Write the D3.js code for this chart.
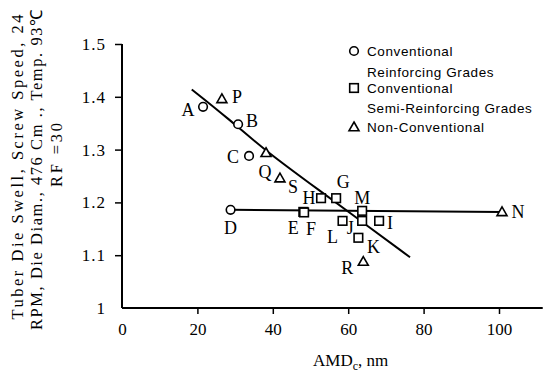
<!DOCTYPE html>
<html>
<head>
<meta charset="utf-8">
<script src="https://cdn.jsdelivr.net/npm/d3@7"></script>
<style>
  html, body { margin: 0; padding: 0; background: #fff; }
  svg { display: block; }
</style>
</head>
<body>
<svg id="chart" width="546" height="374"></svg>
<script>
// ---------------- data ----------------
const pointNames   = ["A","B","C","D","E","F","G","H","I","J","K","L","M","N","P","Q","R","S"];
const pointGroups  = ["circle","circle","circle","circle","square","square","square","square","square","square","square","square","square","triangle","triangle","triangle","triangle","triangle"];
const pointAMD     = [21.5, 30.8, 33.7, 28.8, 48.1, 48.3, 56.8, 52.8, 68.2, 63.7, 62.7, 58.5, 63.7, 100.8, 26.5, 38.2, 64.0, 41.9];
const pointSwell   = [1.381,1.348,1.288,1.186,1.182,1.181,1.208,1.208,1.165,1.165,1.133,1.165,1.184,1.182,1.396,1.294,1.088,1.246];

const trendAMD     = [18.5, 28.0, 38.0, 50.0, 60.5, 76.4];
const trendSwell   = [1.414, 1.360, 1.298, 1.235, 1.180, 1.096];
const flatAMD      = [28.8, 100.8];
const flatSwell    = [1.186, 1.182];

const xTicks = [0, 20, 40, 60, 80, 100];
const yTicks = [1.0, 1.1, 1.2, 1.3, 1.4, 1.5];

const legendGroups = ["circle", "square", "triangle"];
const legendLabels = [["Conventional", "Reinforcing Grades"], ["Conventional", "Semi-Reinforcing Grades"], ["Non-Conventional"]];

const yTitleLines = ["Tuber Die Swell, Screw Speed, 24", "RPM, Die Diam., 476 Cm ., Temp. 93\u2103", "RF =30"];

// ---------------- drawing ----------------
const svg = d3.select("#chart");
const x = d3.scaleLinear().domain([0, 100]).range([122, 499]);
const y = d3.scaleLinear().domain([1, 1.5]).range([308, 44]);
const serif = "'Liberation Serif', 'Times New Roman', serif";

// label offsets (pixels) for point letters
const labelOffset = {
  A: [-15, 3], B: [14, -4], C: [-16, 1], D: [0, 18], E: [-10, 16], F: [7, 16],
  G: [7, -16], H: [-12, 0], I: [11, 2], J: [-12, 7], K: [15, 9], L: [-10, 16],
  M: [0, -13], N: [16, 0], P: [15, -2], Q: [-1, 19], R: [-16, 6], S: [13, 9]
};

function drawMarker(g, type, cx, cy) {
  if (type === "circle") {
    g.append("circle").attr("cx", cx).attr("cy", cy).attr("r", 4.3)
      .attr("fill", "#fff").attr("stroke", "#000").attr("stroke-width", 1.6);
  } else if (type === "square") {
    g.append("rect").attr("x", cx - 4.3).attr("y", cy - 4.3).attr("width", 8.6).attr("height", 8.6)
      .attr("fill", "#fff").attr("stroke", "#000").attr("stroke-width", 1.6);
  } else {
    const s = 5;
    g.append("path").attr("d", `M${cx},${cy - s}L${cx + s},${cy + s * 0.75}L${cx - s},${cy + s * 0.75}Z`)
      .attr("fill", "#fff").attr("stroke", "#000").attr("stroke-width", 1.6);
  }
}

// axes
const xAxis = d3.axisBottom(x).tickValues(xTicks).tickSize(6).tickPadding(9).tickFormat(d3.format("d"));
const gx = svg.append("g").attr("transform", `translate(0,${y(1)})`).call(xAxis);
gx.select(".domain").remove();
gx.selectAll(".tick line").attr("stroke-width", 1.5).filter(d => d === 0).remove();
gx.selectAll("text").attr("font-family", serif).attr("font-size", 17).attr("fill", "#000");
gx.append("line").attr("x1", x(0)).attr("x2", x(111.6)).attr("y1", 0).attr("y2", 0)
  .attr("stroke", "#000").attr("stroke-width", 2);

const yAxis = d3.axisLeft(y).tickValues(yTicks).tickSize(7).tickPadding(9)
  .tickFormat(d => d === 1 ? "1" : d3.format(".1f")(d));
const gy = svg.append("g").attr("transform", `translate(${x(0)},0)`).call(yAxis);
gy.select(".domain").remove();
gy.selectAll(".tick line").attr("stroke-width", 1.5).filter(d => d === 1).remove();
gy.selectAll("text").attr("font-family", serif).attr("font-size", 17).attr("fill", "#000").attr("letter-spacing", 1);
gy.append("line").attr("x1", 0).attr("x2", 0).attr("y1", y(1.5)).attr("y2", y(1))
  .attr("stroke", "#000").attr("stroke-width", 2);

// lines
svg.append("path").datum(trendAMD.map((v, i) => [v, trendSwell[i]]))
  .attr("d", d3.line().x(d => x(d[0])).y(d => y(d[1])).curve(d3.curveBasis))
  .attr("fill", "none").attr("stroke", "#000").attr("stroke-width", 2);
svg.append("path").datum(flatAMD.map((v, i) => [v, flatSwell[i]]))
  .attr("d", d3.line().x(d => x(d[0])).y(d => y(d[1]))).attr("fill", "none").attr("stroke", "#000").attr("stroke-width", 2);

// points
const gp = svg.append("g");
pointNames.forEach((n, i) => {
  drawMarker(gp, pointGroups[i], x(pointAMD[i]), y(pointSwell[i]));
});
pointNames.forEach((n, i) => {
  const cx = x(pointAMD[i]), cy = y(pointSwell[i]);
  const o = labelOffset[n];
  gp.append("text").attr("x", cx + o[0]).attr("y", cy + o[1]).attr("dy", "0.35em")
    .attr("text-anchor", "middle").attr("font-family", serif).attr("font-size", 18).attr("fill", "#000").text(n);
});

// legend
const lg = svg.append("g");
const legendRowY = [[51, 72], [88, 108], [127]];
legendGroups.forEach((t, i) => {
  drawMarker(lg, t, 354, legendRowY[i][0]);
  legendLabels[i].forEach((line, j) => {
    lg.append("text").attr("x", 367).attr("y", legendRowY[i][j]).attr("dy", "0.35em")
      .attr("font-family", "'Liberation Sans', Arial, sans-serif").attr("font-size", 13.5)
      .attr("letter-spacing", 0.6).attr("fill", "#000").text(line);
  });
});

// axis titles
const xt = svg.append("text").attr("x", 313).attr("y", 366).attr("font-family", serif).attr("font-size", 17).attr("fill", "#000");
xt.append("tspan").text("AMD");
xt.append("tspan").attr("font-size", 12).attr("dy", 4).text("c");
xt.append("tspan").attr("dy", -4).text(", nm");

const yTitleX = [23, 42, 62];
const yTitleCY = [167, 170, 155];
const yTitleLen = [305, 320, 64];
yTitleLines.forEach((t, i) => {
  svg.append("text").attr("transform", `translate(${yTitleX[i]},${yTitleCY[i]}) rotate(-90)`)
    .attr("text-anchor", "middle").attr("font-family", serif).attr("font-size", 16.5).attr("fill", "#000")
    .attr("textLength", yTitleLen[i]).attr("lengthAdjust", "spacing").text(t);
});
</script>
</body>
</html>
